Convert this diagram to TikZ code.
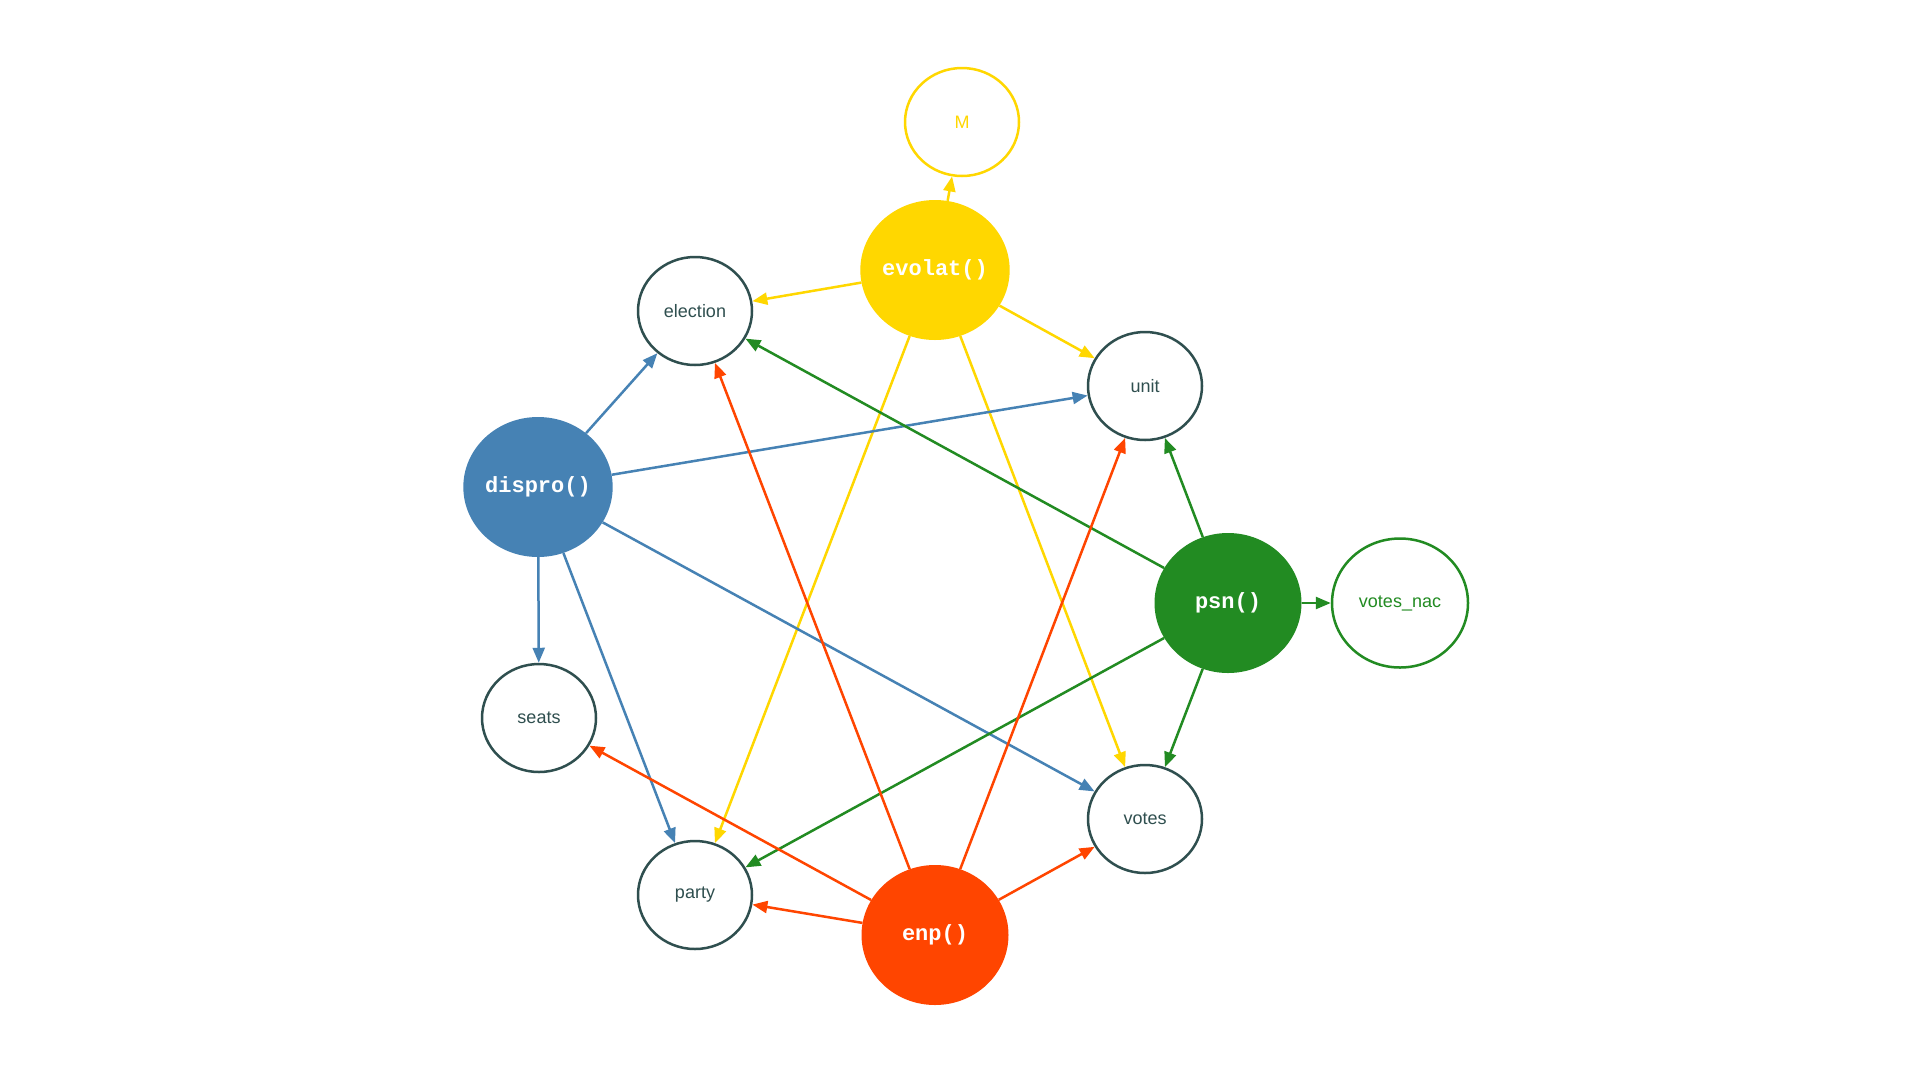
\documentclass[tikz,border=0pt]{standalone}
\usepackage{fontspec}
\setmainfont{Liberation Sans}
\newfontfamily\monofn{Liberation Mono}
\usetikzlibrary{shapes.geometric,arrows.meta}
\definecolor{cgold}{RGB}{255,215,0}
\definecolor{csteel}{RGB}{70,130,180}
\definecolor{cgreen}{RGB}{34,139,34}
\definecolor{cred}{RGB}{255,69,0}
\definecolor{cslate}{RGB}{47,79,79}
\tikzset{
  varnode/.style={ellipse, draw=cslate, line width=2.5pt, minimum width=114pt, minimum height=108pt, inner sep=0pt, text=cslate, font=\fontsize{18}{20}\selectfont},
  fnnode/.style={ellipse, fill=#1, minimum width=147pt, minimum height=140pt, inner sep=0pt, text=white, font=\monofn\bfseries\fontsize{22}{24}\selectfont},
  edge/.style={draw=#1, line width=2.5pt, -{Triangle[length=15pt,width=12pt]}, fill=#1}
}
\begin{document}
\begin{tikzpicture}[x=1pt,y=-1pt]
\useasboundingbox[fill=white] (0,0) rectangle (1920,1080);
% variable nodes
\node[varnode] (election) at (695,311) {election};
\node[varnode] (unit) at (1145,386) {unit};
\node[varnode] (seats) at (539,718) {seats};
\node[varnode] (party) at (695,895) {party};
\node[varnode] (votes) at (1145,819) {votes};
\node[varnode, draw=cgold, text=cgold] (M) at (962,122) {M};
\node[varnode, draw=cgreen, text=cgreen, minimum width=136pt, minimum height=129pt] (votesnac) at (1400,603) {votes\_nac};
% function nodes
\node[fnnode=cgold] (evolat) at (935,270) {evolat()};
\node[fnnode=csteel] (dispro) at (538,487) {dispro()};
\node[fnnode=cgreen] (psn) at (1228,603) {psn()};
\node[fnnode=cred] (enp) at (935,935) {enp()};
% evolat edges
\draw[edge=cgold] (evolat) -- (M);
\draw[edge=cgold] (evolat) -- (election);
\draw[edge=cgold] (evolat) -- (unit);
\draw[edge=cgold] (evolat) -- (party);
\draw[edge=cgold] (evolat) -- (votes);
% dispro edges
\draw[edge=csteel] (dispro) -- (election);
\draw[edge=csteel] (dispro) -- (unit);
\draw[edge=csteel] (dispro) -- (seats);
\draw[edge=csteel] (dispro) -- (party);
\draw[edge=csteel] (dispro) -- (votes);
% psn edges
\draw[edge=cgreen] (psn) -- (election);
\draw[edge=cgreen] (psn) -- (unit);
\draw[edge=cgreen] (psn) -- (votesnac);
\draw[edge=cgreen] (psn) -- (party);
\draw[edge=cgreen] (psn) -- (votes);
% enp edges
\draw[edge=cred] (enp) -- (election);
\draw[edge=cred] (enp) -- (unit);
\draw[edge=cred] (enp) -- (seats);
\draw[edge=cred] (enp) -- (party);
\draw[edge=cred] (enp) -- (votes);
\end{tikzpicture}
\end{document}
